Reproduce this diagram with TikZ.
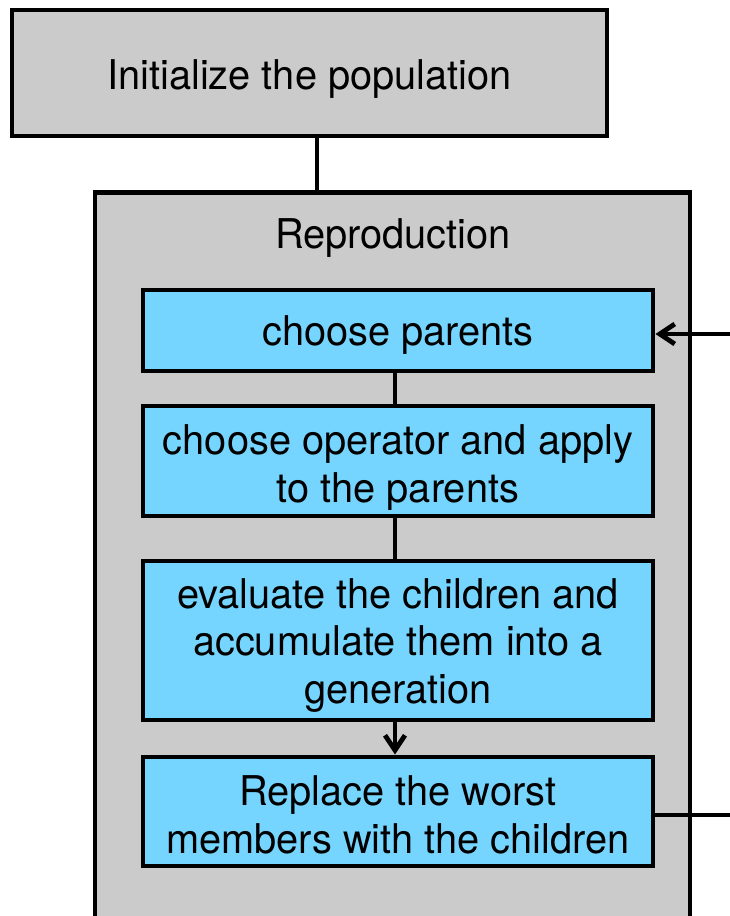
\documentclass[tikz,border=0pt]{standalone}
\usepackage{fontspec}
\setmainfont{TeX Gyre Heros}[FakeStretch=0.97]
\usetikzlibrary{arrows.meta}
\definecolor{boxgray}{RGB}{203,203,203}
\definecolor{stepblue}{RGB}{117,213,254}
\begin{document}
\begin{tikzpicture}[x=1pt,y=1pt,
  every node/.style={font=\fontsize{41}{47.5}\selectfont, align=center, inner sep=0pt},
  graybox/.style={draw=black, fill=boxgray, line width=4.8pt, rectangle, minimum width=595pt},
  stepbox/.style={draw=black, fill=stepblue, line width=4.8pt, rectangle, minimum width=510pt},
  link/.style={line width=4.8pt},
  tip/.style={-{Straight Barb[length=15pt,width=20pt]}}
]
\useasboundingbox (0,0) rectangle (729,-916);
% outer stages
\node[graybox, minimum height=126pt, text height=40pt, text depth=8pt] (init) at (309.5,-73) {Initialize the population};
\node[graybox, minimum height=760pt, anchor=north] (repr) at (392.5,-190) {};
\node[anchor=base] (reprlabel) at (393,-248) {Reproduction};
\draw[link] ([xshift=7.5pt]init.south) -- ([xshift=-75.5pt]repr.north);
% reproduction steps (text height counts from the last baseline)
\node[stepbox, minimum height=81pt, text height=36pt, text depth=7pt] (parents) at (398,-330.5) {choose parents};
\node[stepbox, minimum height=110pt] (operator) at (398,-461) {};
\begin{scope}
  \clip (operator.north west) rectangle ([yshift=9pt]operator.south east);
  \node[text height=90pt, text depth=8pt] (operatortext) at (operator.center) {choose operator and apply\\to the parents};
\end{scope}
\node[stepbox, minimum height=159pt, text height=133pt, text depth=8pt] (evaluate) at (398,-640.5) {evaluate the children and\\accumulate them into a\\generation};
\node[stepbox, minimum height=109pt, text height=91pt, text depth=8pt] (replace) at (398,-811.5) {Replace the worst\\members with the children};
\draw[link] ([xshift=-3pt]parents.south) -- ([xshift=-3pt]operator.north);
\draw[link] ([xshift=-3pt]operator.south) -- ([xshift=-3pt]evaluate.north);
\draw[link, tip] ([xshift=-3pt]evaluate.south) -- ([xshift=-3pt]replace.north);
% loop back
\coordinate (inR) at (740,-334);
\coordinate (outR) at (740,-815);
\draw[link, tip] (inR) -- (inR -| parents.east);
\draw[link] (replace.east |- outR) -- (outR);
\end{tikzpicture}
\end{document}
